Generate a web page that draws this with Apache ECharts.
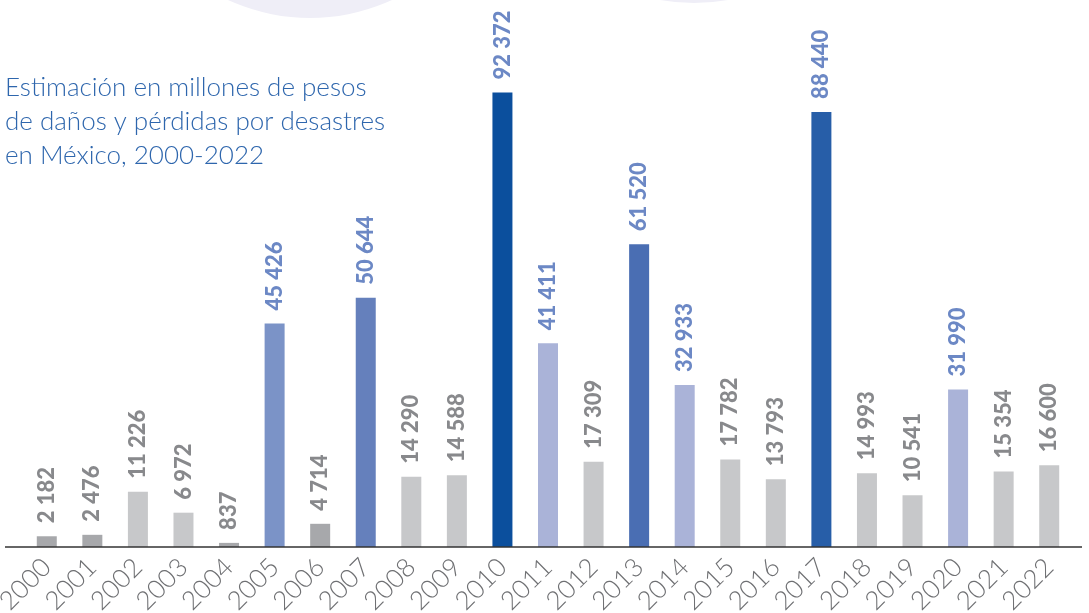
<!DOCTYPE html>
<html>
<head>
<meta charset="utf-8">
<script src="https://cdn.jsdelivr.net/npm/echarts@6/dist/echarts.min.js"></script>
<style>
  html, body { margin: 0; padding: 0; background: #fff; }
  #chart { width: 1089px; height: 613px; }
</style>
</head>
<body>
<div id="chart"></div>
<script>
var years = ['2000', '2001', '2002', '2003', '2004', '2005', '2006', '2007', '2008', '2009', '2010', '2011',
    '2012', '2013', '2014', '2015', '2016', '2017', '2018', '2019', '2020', '2021', '2022'];
var damages = [2182, 2476, 11226, 6972, 837, 45426, 4714, 50644, 14290, 14588, 92372, 41411,
    17309, 61520, 32933, 17782, 13793, 88440, 14993, 10541, 31990, 15354, 16600];
var titleText = 'Estimación en millones de pesos\nde daños y pérdidas por desastres\nen México, 2000-2022';

(function () {
    var myChart = echarts.init(document.getElementById('chart'));

    var gDark = '#a7a8ab', gLight = '#c7c8ca';
    var barColors = [gDark, gDark, gLight, gLight, gDark, '#7b93c7', gDark, '#6580bc', gLight, gLight,
        '#0b4f9d', '#aab3d8', gLight, '#4a6eb3', '#aab3d8', gLight, gLight, '#275ea8', gLight, gLight,
        '#aab3d8', gLight, gLight];

    function fmt(v) {
        return String(v).replace(/\B(?=(\d{3})+(?!\d))/g, ' ');
    }

    var seriesData = damages.map(function (v, i) {
        var c = barColors[i];
        var isGray = (c === gDark || c === gLight);
        return {
            value: v,
            itemStyle: { color: c },
            label: { color: isGray ? '#88898c' : '#6c88c5' }
        };
    });

    var option = {
        animation: false,
        title: {
            text: titleText,
            left: 5,
            top: 71,
            padding: 0,
            textStyle: {
                fontFamily: 'Lato',
                fontWeight: 300,
                fontSize: 26,
                lineHeight: 34,
                color: '#2e66ad'
            }
        },
        graphic: [
            { type: 'circle', shape: { cx: 310, cy: -178, r: 196 }, style: { fill: '#efeef7' }, z: -10 },
            { type: 'circle', shape: { cx: 694, cy: -191, r: 194 }, style: { fill: '#efeef7' }, z: -10 },
            { type: 'line', shape: { x1: 5, y1: 547, x2: 1082, y2: 547 }, style: { stroke: '#333', lineWidth: 1.5 }, z: 10 }
        ],
        grid: {
            left: 24,
            right: 17,
            top: 55,
            bottom: 66,
            containLabel: false,
            outerBoundsMode: 'none'
        },
        xAxis: {
            type: 'category',
            data: years,
            axisLine: { show: false },
            axisTick: { show: false },
            axisLabel: {
                rotate: 45,
                margin: 16,
                interval: 0,
                fontFamily: 'Lato',
                fontWeight: 300,
                fontSize: 26,
                color: '#6f7073'
            }
        },
        yAxis: {
            type: 'value',
            min: 0,
            max: 100000,
            show: false,
            splitLine: { show: false }
        },
        series: [{
            type: 'bar',
            barWidth: 20,
            data: seriesData,
            label: {
                show: true,
                position: 'top',
                rotate: 90,
                align: 'left',
                verticalAlign: 'middle',
                distance: 13,
                fontFamily: 'Lato',
                fontWeight: 900,
                fontSize: 22,
                formatter: function (p) { return fmt(p.value); }
            }
        }]
    };
    myChart.setOption(option);
})();
</script>
</body>
</html>
